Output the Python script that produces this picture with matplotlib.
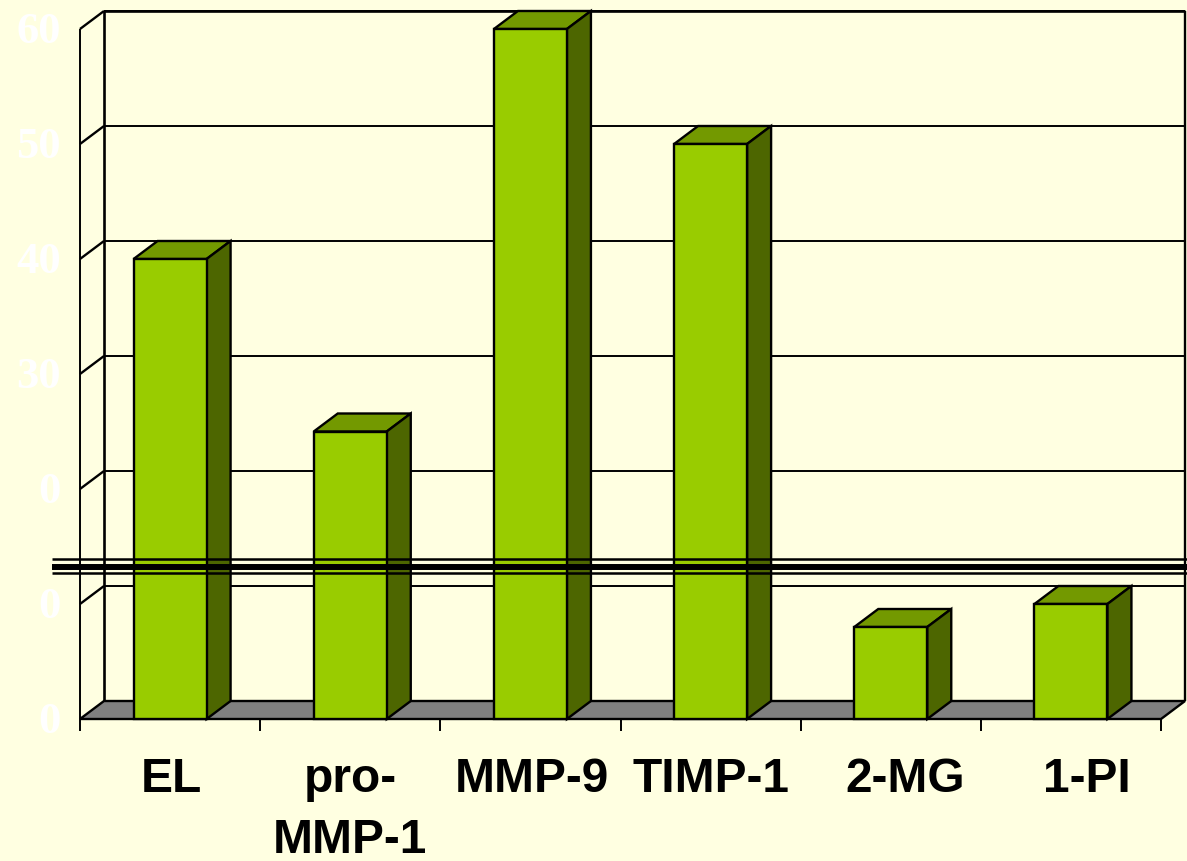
import matplotlib
matplotlib.use("Agg")
import matplotlib.pyplot as plt
from matplotlib.patches import Polygon

categories = ["EL", "pro-\nMMP-1", "MMP-9", "TIMP-1", "2-MG", "1-PI"]
values = [40, 25, 60, 50, 8, 10]
y_ticks = [0, 10, 20, 30, 40, 50, 60]
y_labels = ["0", "0", "0", "30", "40", "50", "60"]
# the last two labels sit off centre in the original
label_shift = [1, 0, 1, 0, 14, 16]
break_levels = [13.87, 13.24, 12.67]
break_widths = [1.8, 4.3, 1.8]

W, H = 1187, 862
X0, Y0 = 80, 720       # front left corner of the floor, in pixels
UX, UY = 180.17, 11.5  # pixels per category, pixels per unit
DX = 24 / UX           # depth of the 3d box
DY = 18 / UY
BAR_W = 73 / UX
LW = 1.7
BG = "#FFFFE1"

fig = plt.figure(figsize=(W / 100, H / 100), dpi=100, facecolor=BG)
ax = fig.add_axes([0, 0, 1, 1])
ax.set_xlim(-X0 / UX, (W - X0) / UX)
ax.set_ylim(-(H - Y0) / UY, Y0 / UY)
ax.axis("off")

n = len(categories)
top = max(y_ticks)


def poly(points, color, z):
    ax.add_patch(Polygon(points, closed=True, facecolor=color, edgecolor="black",
                         linewidth=LW, joinstyle="miter", zorder=z))


def line(xs, ys, z=2, lw=LW):
    ax.plot(xs, ys, color="black", linewidth=lw, zorder=z, solid_capstyle="butt")


# floor
poly([(0, 0), (n, 0), (n + DX, DY), (DX, DY)], "#808080", 1)

# walls and grid
line([0, 0], [-12 / UY, top], lw=LW - 0.3)
line([DX, DX], [DY, top + DY], lw=LW + 0.2)
line([n + DX, n + DX], [DY, top + DY])
for t in y_ticks[1:]:
    line([0, DX], [t, t + DY])
    line([DX, n + DX], [t + DY, t + DY], lw=LW - 0.3)
line([DX, n + DX], [top + DY, top + DY], lw=LW + 0.2)

# category ticks
for i in range(1, n + 1):
    line([i, i], [-12 / UY, 0], lw=LW - 0.3)

# bars
for i, v in enumerate(values):
    x0 = i + 0.5 - BAR_W / 2
    x1 = x0 + BAR_W
    poly([(x0, v), (x1, v), (x1 + DX, v + DY), (x0 + DX, v + DY)], "#739900", 3)
    poly([(x1, 0), (x1 + DX, DY), (x1 + DX, v + DY), (x1, v)], "#4D6600", 3)
    poly([(x0, 0), (x1, 0), (x1, v), (x0, v)], "#99CC00", 3)

# axis break
for lev, lw in zip(break_levels, break_widths):
    ax.plot([-28 / UX, (W - X0) / UX], [lev, lev], color="black", linewidth=lw, zorder=4,
            solid_capstyle="butt")

# tick labels
for t, lab in zip(y_ticks, y_labels):
    ax.annotate(lab, (0, t), xytext=(-19, -2), textcoords="offset pixels", ha="right",
                va="center", color="white", fontsize=32, fontweight="bold",
                family="Liberation Serif", zorder=5)

for i, (cat, s) in enumerate(zip(categories, label_shift)):
    ax.annotate(cat, (i + 0.5, 0), xytext=(s, -37), textcoords="offset pixels", ha="center",
                va="top", color="black", fontsize=34.5, fontweight="bold",
                family="Liberation Sans", linespacing=1.46, zorder=5)

fig.savefig("out.png", dpi=100, facecolor=BG)
